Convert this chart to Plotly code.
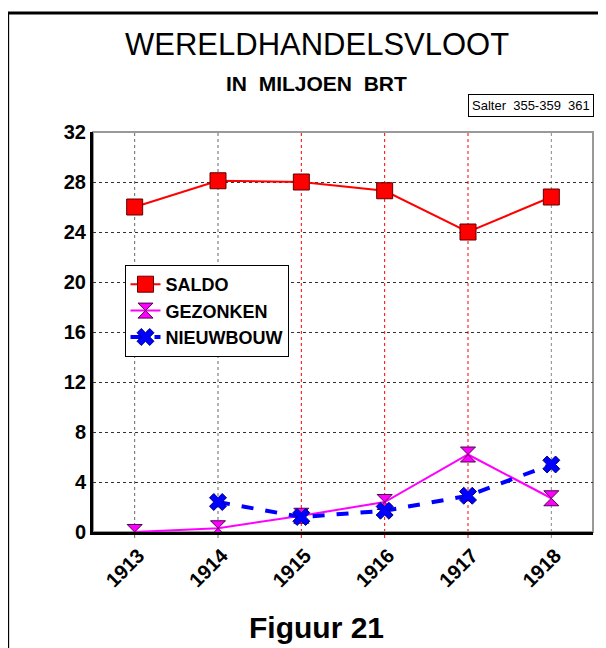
import plotly.graph_objects as go

# data (miljoen BRT)
jaren = [1913, 1914, 1915, 1916, 1917, 1918]
saldo = [26.0, 28.1, 28.0, 27.3, 24.0, 26.8]
gezonken = [0.0, 0.3, 1.3, 2.4, 6.2, 2.7]
nieuwbouw = [None, 2.4, 1.2, 1.7, 2.9, 5.4]
grid_kleur = ["#666666", "#666666", "#ff0000", "#ff0000", "#ff0000", "#888888"]

FONT = "Liberation Sans, Arial, sans-serif"

fig = go.Figure()
fig.add_trace(go.Scatter(
    x=jaren, y=saldo, name="SALDO", mode="lines+markers",
    line=dict(color="#ff0000", width=2),
    marker=dict(symbol="square", size=16, color="#ff0000",
                line=dict(color="#600000", width=1))))
fig.add_trace(go.Scatter(
    x=jaren, y=gezonken, name="GEZONKEN", mode="lines+markers",
    line=dict(color="#ff00ff", width=2),
    marker=dict(symbol="hourglass", size=15, color="#ff00ff",
                line=dict(color="#500050", width=1))))
fig.add_trace(go.Scatter(
    x=jaren, y=nieuwbouw, name="NIEUWBOUW", mode="lines+markers",
    line=dict(color="#0000ff", width=4, dash="dash"),
    marker=dict(symbol="x", size=15, color="#0000ff",
                line=dict(color="#000080", width=1))))

# vertical gridlines, some drawn red in the original
for j, kl in zip(jaren, grid_kleur):
    fig.add_shape(type="line", xref="x", yref="y domain", x0=j, x1=j, y0=-0.015, y1=1,
                  line=dict(color=kl, width=1, dash="dot"), layer="below")

# grey top/right border of the plot area
fig.add_shape(type="rect", xref="x domain", yref="y domain", x0=0, x1=1, y0=0, y1=1,
              line=dict(color="#999999", width=2), layer="below")

# outer frame of the figure (left and top edge visible)
fig.add_shape(type="line", xref="paper", yref="paper", x0=-0.1707, x1=-0.1707, y0=1.2975, y1=-0.3,
              line=dict(color="black", width=3))
fig.add_shape(type="line", xref="paper", yref="paper", x0=-0.1707, x1=1.1, y0=1.2975, y1=1.2975,
              line=dict(color="black", width=3))

fig.add_annotation(text="WERELDHANDELSVLOOT", xref="paper", yref="paper", x=0.447, y=1.2175,
                   yanchor="middle", showarrow=False,
                   font=dict(family=FONT, size=31, color="black"))
fig.add_annotation(text="<b>IN  MILJOEN  BRT</b>", xref="paper", yref="paper", x=0.447, y=1.12,
                   yanchor="middle", showarrow=False,
                   font=dict(family=FONT, size=21, color="black"))
fig.add_annotation(text="Salter  355-359  361", xref="paper", yref="paper", x=1.002, y=1.0375,
                   xanchor="right", yanchor="bottom",
                   showarrow=False, font=dict(family=FONT, size=13, color="black"),
                   bordercolor="black", borderwidth=1, borderpad=3, bgcolor="white")
fig.add_annotation(text="<b>Figuur 21</b>", xref="paper", yref="paper", x=0.447, y=-0.238,
                   yanchor="middle", showarrow=False,
                   font=dict(family=FONT, size=30, color="black"))

fig.update_layout(
    width=598, height=640,
    margin=dict(l=85, r=13, t=124, b=116),
    paper_bgcolor="white", plot_bgcolor="white",
    font=dict(family=FONT, color="black"),
    showlegend=True,
    legend=dict(x=0.063, y=0.6675, xanchor="left", yanchor="top",
                bgcolor="white", bordercolor="black", borderwidth=1,
                font=dict(family=FONT, size=18, color="black", weight="bold"),
                itemwidth=30, tracegroupgap=0),
    xaxis=dict(range=[1912.5, 1918.5], tickmode="array", tickvals=jaren,
               ticktext=[str(j) for j in jaren], tickangle=-45,
               tickfont=dict(family=FONT, size=20, weight="bold"),
               ticklabelshift=4, ticklabelstandoff=1,
               showgrid=False,
               showline=True, linecolor="black", linewidth=3,
               ticks="", ticklen=6, zeroline=False),
    yaxis=dict(range=[0, 32], tickmode="linear", tick0=0, dtick=4,
               tickfont=dict(family=FONT, size=20, weight="bold"),
               showgrid=True, gridcolor="#333333", griddash="dot", gridwidth=1,
               showline=True, linecolor="black", linewidth=3,
               ticks="", zeroline=False),
)

fig.write_html("out.html")
